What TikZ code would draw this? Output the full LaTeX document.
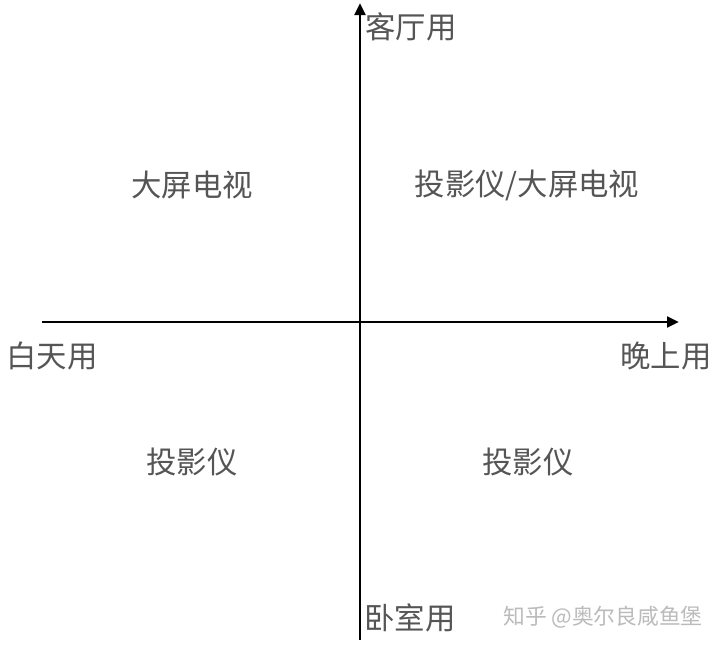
\documentclass[tikz,border=0pt]{standalone}
\usepackage{fontspec}
\newfontfamily\cjk{Noto Sans CJK SC}
\usetikzlibrary{arrows.meta}
\definecolor{txtgray}{HTML}{555555}
\definecolor{wmgray}{HTML}{BBBBBB}
\tikzset{
  axis/.style={line width=2.1pt, draw=black, -{Triangle[length=9pt,width=8pt]}},
  lbl/.style={font=\cjk\fontsize{22.8pt}{25pt}\selectfont, text=txtgray, inner sep=0pt},
  wm/.style={font=\cjk\fontsize{16.3pt}{18pt}\selectfont, text=wmgray, inner sep=0pt}
}
\begin{document}
\begin{tikzpicture}[x=0.75pt,y=-0.75pt]
\useasboundingbox (0,0) rectangle (720,647);
\fill[white] (0,0) rectangle (720,647);
\coordinate (vb) at (360,640);
\coordinate (vt) at (360,3);
\coordinate (hl) at (42,322);
\coordinate (hr) at (679,322);
\draw[axis] (vb) -- (vt);
\draw[axis] (hl) -- (hr);
\node[lbl] (top) at (411,27) {客厅用};
\node[lbl] (left) at (52,356) {白天用};
\node[lbl] (right) at (666,356) {晚上用};
\node[lbl] (bottom) at (410,618) {卧室用};
\node[lbl] (q2) at (192,185) {大屏电视};
\node[lbl] (q1) at (527,185) {投影仪/大屏电视};
\node[lbl] (q3) at (192,462) {投影仪};
\node[lbl] (q4) at (528,462) {投影仪};
\node[wm] (wm) at (603,617) {知乎 @奥尔良咸鱼堡};
\end{tikzpicture}
\end{document}
